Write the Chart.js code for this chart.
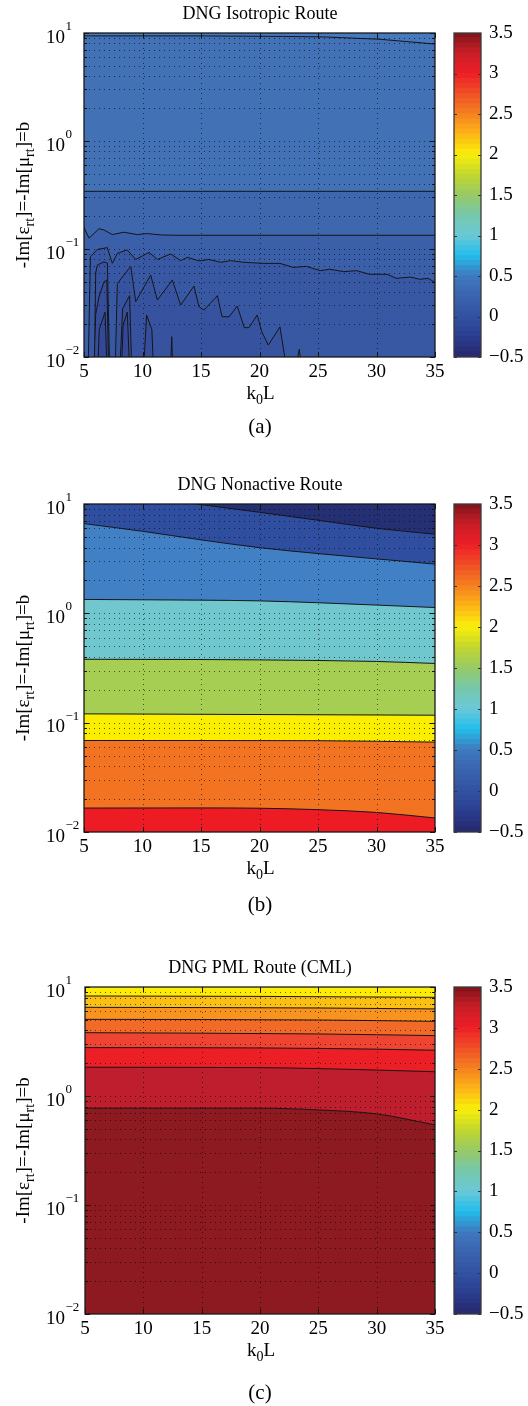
<!DOCTYPE html>
<html>
<head>
<meta charset="utf-8">
<title>DNG routes</title>
<script src="https://cdn.jsdelivr.net/npm/chart.js@4.4.1/dist/chart.umd.min.js"></script>
<style>
  html, body { margin: 0; padding: 0; background: #ffffff; }
  body { position: relative; width: 528px; height: 1406px; overflow: hidden; }
  canvas { position: absolute; }
</style>
</head>
<body>
<canvas id="plotA" width="528" height="440" style="left:0;top:0"></canvas>
<canvas id="barA" width="78" height="440" style="left:450px;top:0"></canvas>
<canvas id="plotB" width="528" height="470" style="left:0;top:450px"></canvas>
<canvas id="barB" width="78" height="470" style="left:450px;top:450px"></canvas>
<canvas id="plotC" width="528" height="481" style="left:0;top:925px"></canvas>
<canvas id="barC" width="78" height="481" style="left:450px;top:925px"></canvas>
<script>
// axis ticks
const kTicks = [5, 10, 15, 20, 25, 30, 35];
const bMajor = [0.01, 0.1, 1, 10];
const bExp = ['\u22122', '\u22121', '0', '1'];
const bGrid = [0.01, 0.02, 0.03, 0.04, 0.05, 0.06, 0.07, 0.08, 0.09,
               0.1, 0.2, 0.3, 0.4, 0.5, 0.6, 0.7, 0.8, 0.9,
               1, 2, 3, 4, 5, 6, 7, 8, 9, 10];
const cbTicks = [-0.5, 0, 0.5, 1, 1.5, 2, 2.5, 3, 3.5];

// (a) isotropic route - contour lines [k0L, b], top to bottom
const isoC1 = [[5, 9.4], [15, 9.4], [22, 9.3], [25.5, 9.2], [30.3, 8.75], [35, 7.9]];
const isoC2 = [[5, 0.342], [35, 0.342]];
const isoC3 = [[5, 0.159], [5.43, 0.126], [6.28, 0.154], [6.71, 0.15], [7.42, 0.136], [8.42, 0.143],
               [9.56, 0.136], [10.4, 0.139], [11.55, 0.135], [13, 0.134], [35, 0.134]];
const isoC4 = [[5, 0.004], [5.3, 0.004], [5.55, 0.085], [6.14, 0.099], [6.99, 0.103], [7.42, 0.0736],
               [7.85, 0.0912], [8.7, 0.098], [9.42, 0.08], [10.56, 0.093], [11.27, 0.08], [12.41, 0.09],
               [13.26, 0.078], [13.83, 0.0838], [14.83, 0.0775], [15.68, 0.08], [16.68, 0.0753],
               [17.54, 0.078], [18.68, 0.0753], [20.38, 0.0736], [21.75, 0.0736], [22.9, 0.0676],
               [24, 0.069], [25.2, 0.063], [26, 0.065], [27.2, 0.0617], [28.3, 0.063], [29.4, 0.0583],
               [30.9, 0.0583], [31.7, 0.0535], [32.9, 0.055], [33.7, 0.0524], [34.4, 0.0535], [35, 0.0492]];
const isoC5 = [[5, 0.004], [5.85, 0.004], [6.0, 0.06], [6.14, 0.071], [6.7, 0.076], [7.0, 0.074],
               [7.25, 0.004], [7.6, 0.004], [7.85, 0.048], [8.85, 0.066], [9.0, 0.0686], [9.42, 0.0325],
               [10.7, 0.0574], [11.27, 0.0337], [12.55, 0.0517], [13.26, 0.0303], [14.4, 0.0454],
               [14.83, 0.0292], [15.26, 0.0272], [16.4, 0.037], [16.8, 0.0236], [17.4, 0.0236],
               [18.1, 0.0296], [18.7, 0.0187], [19.1, 0.0187], [19.8, 0.0245], [20.2, 0.0171],
               [20.75, 0.0129], [21.75, 0.019], [22.3, 0.008], [23.0, 0.007], [23.4, 0.0118],
               [23.6, 0.008], [35, 0.004]];
const isoC6 = [[5, 0.004], [5.7, 0.004], [6.0, 0.025], [6.28, 0.036], [6.71, 0.0498], [6.95, 0.0517],
               [7.15, 0.004], [7.95, 0.004], [8.3, 0.028], [8.9, 0.037], [9.15, 0.004], [9.95, 0.004],
               [10.35, 0.0245], [10.8, 0.018], [11.05, 0.004], [12.3, 0.004], [12.5, 0.0154],
               [12.65, 0.004], [35, 0.004]];
const isoC7 = [[5, 0.004], [6.1, 0.004], [6.3, 0.018], [6.8, 0.026], [7.05, 0.004], [8.1, 0.004],
               [8.35, 0.02], [8.7, 0.026], [9.0, 0.004], [35, 0.004]];

// (b) nonactive route
const nonC1 = [[5, 14], [14.6, 10], [20, 8.4], [25, 7.1], [30, 6.0], [35, 5.29]];
const nonC2 = [[5, 6.62], [10, 5.63], [15, 4.7], [20, 3.99], [25, 3.52], [30, 3.15], [35, 2.82]];
const nonC3 = [[5, 1.34], [10, 1.33], [15, 1.32], [20, 1.3], [25, 1.25], [30, 1.19], [35, 1.13]];
const nonC4 = [[5, 0.38], [15, 0.378], [20, 0.375], [30, 0.363], [35, 0.348]];
const nonC5 = [[5, 0.1204], [35, 0.117]];
const nonC6 = [[5, 0.0687], [25, 0.0684], [35, 0.0664]];
const nonC7 = [[5, 0.01656], [15, 0.0166], [20, 0.0165], [25, 0.016], [30, 0.0151], [35, 0.01343]];

// (c) PML route (CML)
const pmlC1 = [[5, 8.27], [20, 8.2], [35, 8.04]];
const pmlC2 = [[5, 6.51], [25, 6.42], [35, 6.29]];
const pmlC3 = [[5, 5.05], [25, 4.98], [35, 4.84]];
const pmlC4 = [[5, 3.81], [25, 3.71], [35, 3.58]];
const pmlC5 = [[5, 2.78], [20, 2.76], [30, 2.69], [35, 2.63]];
const pmlC6 = [[5, 1.835], [20, 1.82], [30, 1.73], [35, 1.67]];
const pmlC7 = [[5, 0.773], [20, 0.773], [25, 0.745], [30, 0.685], [35, 0.543]];

// band colours: the one above each contour, then the one below the lowest
const isoColors = ['#4679bd', '#4271b6', '#3e67ae', '#3b5fa8', '#3958a3', '#37529f', '#354d9b', '#334898'];
const nonColors = ['#243073', '#304ea0', '#4180c4', '#70c8ce', '#a6ce52', '#fcee00', '#f27321', '#ed1c24'];
const pmlColors = ['#fdeb0a', '#fcc015', '#f7931e', '#f26a27', '#ee4431', '#ec1f26', '#be1e2d', '#8d1a20'];

// printed jet colormap for the colour bar
const cbStops = [
    [-0.5, [38, 40, 108]], [-0.25, [44, 62, 145]], [0, [50, 82, 162]], [0.25, [58, 100, 176]],
    [0.5, [62, 122, 192]], [0.75, [35, 190, 235]], [1, [108, 200, 215]], [1.25, [118, 200, 170]],
    [1.5, [152, 202, 100]], [1.75, [195, 215, 45]], [2, [250, 238, 10]], [2.25, [252, 180, 22]],
    [2.5, [245, 128, 32]], [2.75, [240, 78, 38]], [3, [236, 30, 38]], [3.25, [200, 30, 40]], [3.5, [125, 20, 25]]
];

const FONT = '"Liberation Serif", "Times New Roman", serif';
Chart.defaults.font.family = FONT;

function jet(v) {
    for (let i = 1; i < cbStops.length; i++) {
        if (v <= cbStops[i][0]) {
            const [v0, c0] = cbStops[i - 1];
            const [v1, c1] = cbStops[i];
            const t = (v - v0) / (v1 - v0);
            const c = c0.map((c, j) => Math.round(c + (c1[j] - c) * t));
            return `rgb(${c[0]},${c[1]},${c[2]})`;
        }
    }
    return 'rgb(125,20,25)';
}

// draws text with subscripts, parts = [text, isSub]
function richText(ctx, parts, x, y, align) {
    ctx.textAlign = 'left';
    let w = 0;
    parts.forEach(p => {
        ctx.font = (p[1] ? 14 : 19) + 'px ' + FONT;
        w += ctx.measureText(p[0]).width;
    });
    let cx = align === 'center' ? x - w / 2 : x;
    parts.forEach(p => {
        ctx.font = (p[1] ? 14 : 19) + 'px ' + FONT;
        ctx.fillText(p[0], cx, y + (p[1] ? 5 : 0));
        cx += ctx.measureText(p[0]).width;
    });
}

const yLabelParts = [['-Im[\u03b5', 0], ['rt', 1], [']=-Im[\u03bc', 0], ['rt', 1], [']=b', 0]];

// dotted matlab grid, drawn over the filled contours
const dottedGrid = {
    id: 'dottedGrid',
    afterDatasetsDraw(chart) {
        const { ctx, chartArea: a, scales: { x, y } } = chart;
        ctx.save();
        ctx.strokeStyle = 'rgba(0,0,0,0.6)';
        ctx.lineWidth = 1;
        ctx.setLineDash([1, 4]);
        ctx.beginPath();
        kTicks.slice(1, -1).forEach(v => {
            const px = Math.round(x.getPixelForValue(v)) + 0.5;
            ctx.moveTo(px, a.top); ctx.lineTo(px, a.bottom);
        });
        bGrid.slice(1, -1).forEach(v => {
            const py = Math.round(y.getPixelForValue(v)) + 0.5;
            ctx.moveTo(a.left, py); ctx.lineTo(a.right, py);
        });
        ctx.stroke();
        ctx.restore();
    }
};

const panelDeco = {
    id: 'panelDeco',
    afterDraw(chart, args, opts) {
        const { ctx, chartArea: a, scales: { x, y } } = chart;
        ctx.save();
        // little inward ticks, like matlab
        ctx.strokeStyle = '#111';
        ctx.lineWidth = 1;
        ctx.beginPath();
        kTicks.forEach(v => {
            const px = Math.round(x.getPixelForValue(v)) + 0.5;
            ctx.moveTo(px, a.bottom); ctx.lineTo(px, a.bottom - 5);
            ctx.moveTo(px, a.top); ctx.lineTo(px, a.top + 5);
        });
        bGrid.forEach(v => {
            const len = bMajor.includes(v) ? 5 : 3;
            const py = Math.round(y.getPixelForValue(v)) + 0.5;
            ctx.moveTo(a.left, py); ctx.lineTo(a.left + len, py);
            ctx.moveTo(a.right, py); ctx.lineTo(a.right - len, py);
        });
        ctx.stroke();
        ctx.lineWidth = 1.3;
        ctx.strokeStyle = '#1a1a1a';
        ctx.strokeRect(a.left, a.top, a.right - a.left, a.bottom - a.top);

        ctx.fillStyle = '#000';
        ctx.textBaseline = 'alphabetic';
        // y tick labels 10^n
        bMajor.forEach((v, i) => {
            const py = y.getPixelForValue(v);
            ctx.textAlign = 'left';
            ctx.font = '19px ' + FONT;
            ctx.fillText('10', 46, py + 9.5);
            const w = ctx.measureText('10').width;
            ctx.font = '13px ' + FONT;
            ctx.fillText(bExp[i], 46 + w + 0.5, py - 3);
        });
        // title
        ctx.textAlign = 'center';
        ctx.font = '18px ' + FONT;
        ctx.fillText(opts.title, 260, a.top - 14.5);
        // x label
        richText(ctx, [['k', 0], ['0', 1], ['L', 0]], (a.left + a.right) / 2 + 1, a.bottom + 42, 'center');
        // y label
        ctx.save();
        ctx.translate(28.5, (a.top + a.bottom) / 2);
        ctx.rotate(-Math.PI / 2);
        richText(ctx, yLabelParts, 0, 0, 'center');
        ctx.restore();
        // caption
        ctx.textAlign = 'center';
        ctx.font = '21px ' + FONT;
        ctx.fillText(opts.caption, 260, a.bottom + opts.capDy);
        ctx.restore();
    }
};

const barDeco = {
    id: 'barDeco',
    afterDraw(chart) {
        const { ctx, chartArea: a, scales: { y } } = chart;
        ctx.save();
        ctx.strokeStyle = '#333';
        ctx.lineWidth = 1;
        ctx.beginPath();
        cbTicks.forEach(v => {
            const py = Math.round(y.getPixelForValue(v)) + 0.5;
            ctx.moveTo(a.left, py); ctx.lineTo(a.left + 3, py);
            ctx.moveTo(a.right, py); ctx.lineTo(a.right - 3, py);
        });
        ctx.stroke();
        ctx.lineWidth = 1.3;
        ctx.strokeStyle = '#3a3a3a';
        ctx.strokeRect(a.left, a.top, a.right - a.left, a.bottom - a.top);
        ctx.restore();
    }
};

function contourSets(lines, colors, smooth) {
    const sets = lines.map((pts, i) => ({
        data: pts.map(p => ({ x: p[0], y: p[1] })),
        fill: 'end',
        backgroundColor: colors[i],
        borderColor: '#161616',
        borderWidth: 1,
        pointRadius: 0,
        tension: smooth ? 0.4 : 0,
        cubicInterpolationMode: smooth ? 'monotone' : 'default'
    }));
    // lowest band
    sets.push({
        data: [{ x: kTicks[0], y: bMajor[0] }, { x: kTicks[kTicks.length - 1], y: bMajor[0] }],
        fill: 'end',
        backgroundColor: colors[lines.length],
        borderWidth: 0,
        pointRadius: 0
    });
    return sets;
}

function makePanel(id, H, area, datasets, title, caption, capDy) {
    return new Chart(document.getElementById(id), {
        type: 'line',
        data: { datasets: datasets },
        options: {
            responsive: false,
            animation: false,
            events: [],
            layout: { padding: { left: 0, right: 528 - area.right, top: area.top, bottom: 0 } },
            scales: {
                x: {
                    type: 'linear',
                    min: 5,
                    max: 35,
                    afterFit: s => { s.height = H - area.bottom; },
                    ticks: {
                        stepSize: 5,
                        autoSkip: false,
                        maxRotation: 0,
                        padding: 4,
                        color: '#000',
                        font: { size: 19, family: FONT },
                        callback: v => String(v)
                    },
                    grid: { display: false, drawTicks: false },
                    border: { display: false }
                },
                y: {
                    type: 'logarithmic',
                    min: 0.01,
                    max: 10,
                    afterFit: s => { s.width = area.left; },
                    afterBuildTicks: s => {
                        s.ticks = bGrid.map(v => ({ value: v, major: bMajor.includes(v) }));
                    },
                    ticks: { display: false, autoSkip: false },
                    grid: { display: false, drawTicks: false },
                    border: { display: false }
                }
            },
            plugins: {
                legend: { display: false },
                tooltip: { enabled: false },
                panelDeco: { title: title, caption: caption, capDy: capDy }
            }
        },
        plugins: [dottedGrid, panelDeco]
    });
}

function makeColorbar(id, H, area) {
    const step = 0.0625;
    const sets = [];
    for (let v = cbTicks[0]; v < cbTicks[cbTicks.length - 1] - 1e-9; v += step) {
        sets.push({
            data: [[v, v + step + 0.004]],
            backgroundColor: jet(v + step / 2),
            borderWidth: 0,
            grouped: false,
            barPercentage: 1,
            categoryPercentage: 1
        });
    }
    return new Chart(document.getElementById(id), {
        type: 'bar',
        data: { labels: [''], datasets: sets },
        options: {
            responsive: false,
            animation: false,
            events: [],
            layout: { padding: { left: 4, right: 0, top: area.top, bottom: H - area.bottom } },
            scales: {
                x: { display: false },
                y: {
                    position: 'right',
                    min: -0.5,
                    max: 3.5,
                    afterFit: s => { s.width = 47; },
                    afterBuildTicks: s => { s.ticks = cbTicks.map(v => ({ value: v })); },
                    ticks: {
                        padding: 8,
                        color: '#000',
                        font: { size: 19, family: FONT },
                        callback: v => (v < 0 ? '\u2212' + Math.abs(v) : String(v))
                    },
                    grid: { display: false, drawTicks: false },
                    border: { display: false }
                }
            },
            plugins: { legend: { display: false }, tooltip: { enabled: false } }
        },
        plugins: [barDeco]
    });
}

const areaA = { left: 84, right: 435, top: 33, bottom: 357 };
const areaB = { left: 84, right: 435, top: 54, bottom: 382 };
const areaC = { left: 85, right: 435, top: 62, bottom: 389 };

makePanel('plotA', 440, areaA,
    contourSets([isoC1, isoC2, isoC3, isoC4, isoC5, isoC6, isoC7], isoColors, false),
    'DNG Isotropic Route', '(a)', 76);
makeColorbar('barA', 440, areaA);

makePanel('plotB', 470, areaB,
    contourSets([nonC1, nonC2, nonC3, nonC4, nonC5, nonC6, nonC7], nonColors, true),
    'DNG Nonactive Route', '(b)', 79);
makeColorbar('barB', 470, areaB);

makePanel('plotC', 481, areaC,
    contourSets([pmlC1, pmlC2, pmlC3, pmlC4, pmlC5, pmlC6, pmlC7], pmlColors, true),
    'DNG PML Route (CML)', '(c)', 85);
makeColorbar('barC', 481, areaC);
</script>
</body>
</html>
